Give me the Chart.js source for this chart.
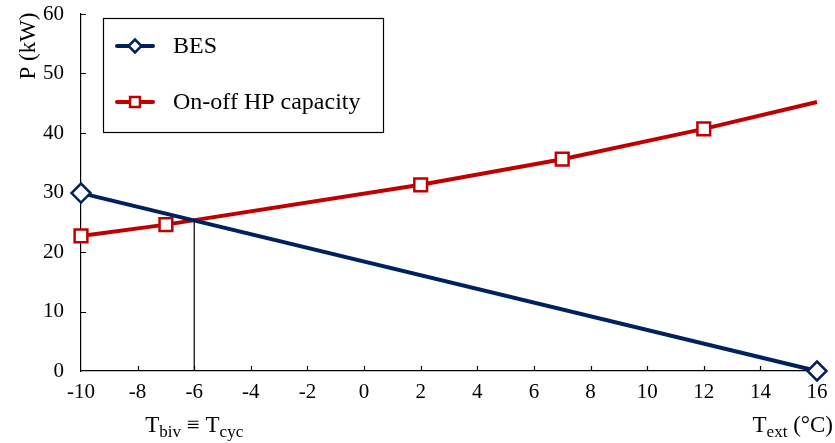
<!DOCTYPE html>
<html>
<head>
<meta charset="utf-8">
<script src="https://cdn.jsdelivr.net/npm/chart.js@4"></script>
<style>
  html, body { margin: 0; padding: 0; background: #fff; }
  #wrap { width: 835px; height: 443px; position: relative; }
</style>
</head>
<body>
<div id="wrap"><canvas id="c" width="835" height="443"></canvas></div>
<script>
// Outdoor temperature (°C) and power (kW)
const besTemps = [-10, 16];
const besPower = [29.9, 0];

const hpTemps = [-10, -7, 2, 7, 12, 16];
const hpPower = [22.7, 24.6, 31.3, 35.6, 40.7, 45.2];
const hpMarked = [true, true, true, true, true, false];

// Bivalent / cycling temperature marker
const bivTemp = -6;
const bivPower = [0, 25.4];

const xTicks = [-10, -8, -6, -4, -2, 0, 2, 4, 6, 8, 10, 12, 14, 16];
const yTicks = [0, 10, 20, 30, 40, 50, 60];

const seriesLabels = ['BES', 'On-off HP capacity'];
const NAVY = '#002060';
const RED = '#c00000';
const SERIF = '"Liberation Serif", "DejaVu Serif", serif';

// Inward tick marks drawn beneath the series
const innerTicks = {
  id: 'innerTicks',
  beforeDatasetsDraw(chart) {
    const ctx = chart.ctx;
    const xs = chart.scales.x, ys = chart.scales.y;
    const ca = chart.chartArea;
    ctx.save();
    ctx.strokeStyle = '#000';
    ctx.lineWidth = 1.2;
    ctx.beginPath();
    xTicks.forEach(v => {
      if (v === -10) return;
      const px = Math.round(xs.getPixelForValue(v)) + 0.5;
      ctx.moveTo(px, ca.bottom);
      ctx.lineTo(px, ca.bottom - 5);
    });
    yTicks.forEach(v => {
      if (v === 0) return;
      const py = Math.round(ys.getPixelForValue(v)) + 0.5;
      ctx.moveTo(ca.left, py);
      ctx.lineTo(ca.left + 5, py);
    });
    ctx.stroke();
    ctx.restore();
  }
};

// Legend box and free-floating axis captions
const decorations = {
  id: 'decorations',
  afterDraw(chart) {
    const ctx = chart.ctx;
    const xs = chart.scales.x;
    ctx.save();

    const bx = 103.5, by = 18.5, bw = 280, bh = 114;
    ctx.fillStyle = '#fff';
    ctx.fillRect(bx, by, bw, bh);
    ctx.lineWidth = 1.2;
    ctx.strokeStyle = '#000';
    ctx.strokeRect(bx, by, bw, bh);
    const rows = [
      { y: 46, color: NAVY, style: 'rectRot', label: seriesLabels[0] },
      { y: 102, color: RED, style: 'rect', label: seriesLabels[1] }
    ];
    rows.forEach(r => {
      ctx.strokeStyle = r.color;
      ctx.lineWidth = 4;
      ctx.lineCap = 'round';
      ctx.beginPath();
      ctx.moveTo(117, r.y);
      ctx.lineTo(153, r.y);
      ctx.stroke();
      ctx.fillStyle = '#fff';
      ctx.lineWidth = 2.5;
      Chart.helpers.drawPoint(ctx, { pointStyle: r.style, radius: r.style === 'rect' ? 7 : 6.5, borderWidth: 2.5 }, 135, r.y);
      ctx.fillStyle = '#000';
      ctx.font = '24px ' + SERIF;
      ctx.textAlign = 'left';
      ctx.textBaseline = 'middle';
      ctx.fillText(r.label, 173, r.y + 1);
    });

    // Y axis caption
    ctx.fillStyle = '#000';
    ctx.save();
    ctx.translate(29, 46);
    ctx.rotate(-Math.PI / 2);
    ctx.font = '23px ' + SERIF;
    ctx.textAlign = 'center';
    ctx.textBaseline = 'middle';
    ctx.fillText('P (kW)', 0, 0);
    ctx.restore();

    // Text with subscripts
    function subText(parts, x, y, align) {
      const main = '23px ' + SERIF, sub = '17px ' + SERIF;
      let total = 0;
      parts.forEach(p => { ctx.font = p.sub ? sub : main; total += ctx.measureText(p.t).width; });
      let cx = align === 'right' ? x - total : x - total / 2;
      ctx.textAlign = 'left';
      ctx.textBaseline = 'alphabetic';
      parts.forEach(p => {
        ctx.font = p.sub ? sub : main;
        ctx.fillText(p.t, cx, p.sub ? y + 5 : y);
        cx += ctx.measureText(p.t).width;
      });
    }
    subText([{ t: 'T' }, { t: 'biv', sub: true }, { t: ' \u2261 T' }, { t: 'cyc', sub: true }],
      xs.getPixelForValue(bivTemp), 432, 'center');
    subText([{ t: 'T' }, { t: 'ext', sub: true }, { t: ' (\u00B0C)' }], 833, 432, 'right');
    ctx.restore();
  }
};

const ctx = document.getElementById('c').getContext('2d');
new Chart(ctx, {
  type: 'scatter',
  data: {
    datasets: [
      {
        label: seriesLabels[0],
        data: besTemps.map((t, i) => ({ x: t, y: besPower[i] })),
        showLine: true,
        borderColor: NAVY,
        borderWidth: 4,
        backgroundColor: '#fff',
        pointStyle: 'rectRot',
        pointRadius: 9.5,
        pointBorderWidth: 2.5,
        pointBorderColor: NAVY,
        pointBackgroundColor: '#fff',
        order: 1
      },
      {
        label: seriesLabels[1],
        data: hpTemps.map((t, i) => ({ x: t, y: hpPower[i] })),
        showLine: true,
        borderColor: RED,
        borderWidth: 4,
        backgroundColor: '#fff',
        pointStyle: 'rect',
        pointRadius: hpMarked.map(m => m ? 9 : 0),
        pointBorderWidth: 2.5,
        pointBorderColor: RED,
        pointBackgroundColor: '#fff',
        order: 2
      },
      {
        label: 'biv',
        data: bivPower.map(p => ({ x: bivTemp, y: p })),
        showLine: true,
        borderColor: '#000',
        borderWidth: 1.2,
        pointRadius: 0,
        order: 3
      }
    ]
  },
  options: {
    responsive: false,
    animation: false,
    clip: false,
    layout: { padding: { top: 14, right: 18, left: 0, bottom: 0 } },
    plugins: { legend: { display: false }, tooltip: { enabled: false } },
    scales: {
      x: {
        type: 'linear',
        min: -10, max: 16,
        afterBuildTicks: s => { s.ticks = xTicks.map(v => ({ value: v })); },
        afterFit: s => { s.height = 72; s.paddingLeft = 0; s.paddingRight = 0; },
        grid: { display: false, drawTicks: false },
        border: { color: '#000', width: 1.2 },
        ticks: { color: '#000', font: { family: SERIF, size: 21 }, padding: 9 }
      },
      y: {
        type: 'linear',
        min: 0, max: 60,
        afterBuildTicks: s => { s.ticks = yTicks.map(v => ({ value: v })); },
        afterFit: s => { s.width = 81; s.paddingTop = 0; s.paddingBottom = 0; },
        grid: { display: false, drawTicks: false },
        border: { color: '#000', width: 1.2 },
        ticks: { color: '#000', font: { family: SERIF, size: 21 }, padding: 17 }
      }
    }
  },
  plugins: [innerTicks, decorations]
});
</script>
</body>
</html>
